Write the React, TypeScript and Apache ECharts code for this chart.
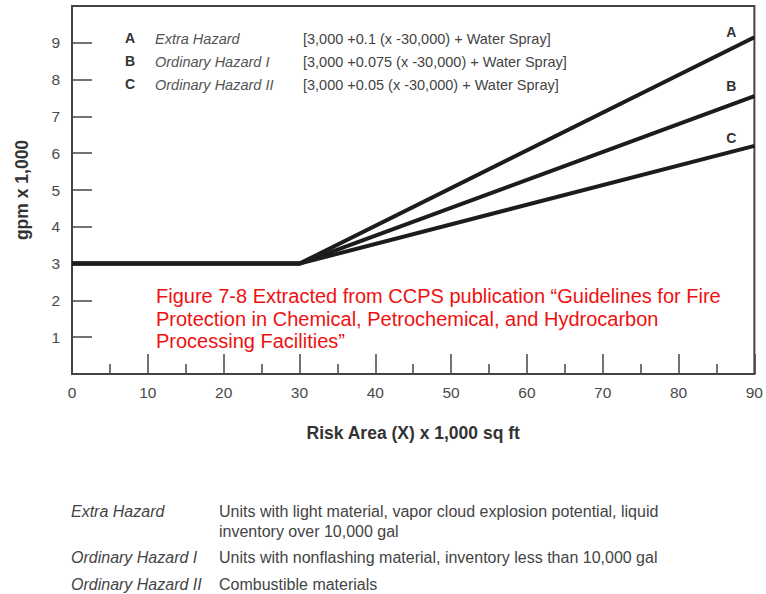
import React, { useEffect, useRef } from "react";
import * as echarts from "echarts";

const seriesKeys = ["A", "B", "C"];
const hazardNames = ["Extra Hazard", "Ordinary Hazard I", "Ordinary Hazard II"];
const formulas = [
  "[3,000 +0.1 (x -30,000) + Water Spray]",
  "[3,000 +0.075 (x -30,000) + Water Spray]",
  "[3,000 +0.05 (x -30,000) + Water Spray]",
];
const xPoints = [0, 30, 90];
const seriesA = [3, 3, 9.15];
const seriesB = [3, 3, 7.55];
const seriesC = [3, 3, 6.2];
const labelOffsets = [-5, -10, -8];
const descriptions = [
  "Units with light material, vapor cloud explosion potential, liquid\ninventory over 10,000 gal",
  "Units with nonflashing material, inventory less than 10,000 gal",
  "Combustible materials",
];
const figureNote =
  "Figure 7-8 Extracted from CCPS publication \u201cGuidelines for Fire\nProtection in Chemical, Petrochemical, and Hydrocarbon\nProcessing Facilities\u201d";

const FONT = "'Liberation Sans', Arial, Helvetica, sans-serif";
const AXIS = "#444";
const TXT = "#4a4a4a";

export default function App() {
  const ref = useRef<HTMLDivElement>(null);
  useEffect(() => {
    document.body.style.margin = "0";
    if (!ref.current) return;
    const chart = echarts.init(ref.current, null, { renderer: "svg" });
    const all = [seriesA, seriesB, seriesC];
    const series = all.map((vals, si) => ({
      type: "line",
      name: seriesKeys[si],
      showSymbol: true,
      symbol: "circle",
      symbolSize: 0,
      lineStyle: { color: "#1c1c1c", width: 4 },
      itemStyle: { color: "#1c1c1c" },
      data: vals.map((v, i) =>
        i === vals.length - 1
          ? {
              value: [xPoints[i], v],
              label: {
                show: true,
                formatter: seriesKeys[si],
                position: [-23, labelOffsets[si]],
                align: "center",
                verticalAlign: "middle",
                fontFamily: FONT,
                fontWeight: "bold",
                fontSize: 14,
                color: "#333",
              },
            }
          : [xPoints[i], v]
      ),
    }));

    const graphics: any[] = [];
    const rowY = [39, 62, 85];
    seriesKeys.forEach((k, i) => {
      graphics.push({
        type: "text",
        left: 125,
        top: rowY[i] - 8,
        style: { text: k, font: `bold 14px ${FONT}`, fill: "#333" },
      });
      graphics.push({
        type: "text",
        left: 155,
        top: rowY[i] - 8,
        style: { text: hazardNames[i], font: `italic 14.5px ${FONT}`, fill: "#555" },
      });
      graphics.push({
        type: "text",
        left: 303,
        top: rowY[i] - 8,
        style: { text: formulas[i], font: `14.5px ${FONT}`, fill: "#444" },
      });
    });
    graphics.push({
      type: "text",
      left: 156,
      top: 285,
      style: {
        text: figureNote,
        font: `20px ${FONT}`,
        fill: "#ee1111",
        lineHeight: 22.5,
      },
    });
    const descY = [501, 547, 574];
    hazardNames.forEach((h, i) => {
      graphics.push({
        type: "text",
        left: 71,
        top: descY[i],
        style: { text: h, font: `italic 16px ${FONT}`, fill: "#444", lineHeight: 20 },
      });
      graphics.push({
        type: "text",
        left: 219,
        top: descY[i],
        style: { text: descriptions[i], font: `16px ${FONT}`, fill: "#444", lineHeight: 20 },
      });
    });

    chart.setOption({
      animation: false,
      grid: {
        left: 72,
        right: 10,
        top: 6,
        bottom: 220,
        show: true,
        borderColor: AXIS,
        borderWidth: 2,
        backgroundColor: "transparent",
      },
      xAxis: {
        type: "value",
        min: 0,
        max: 90,
        interval: 10,
        name: "Risk Area (X) x 1,000 sq ft",
        nameLocation: "middle",
        nameGap: 50,
        nameTextStyle: { fontFamily: FONT, fontWeight: "bold", fontSize: 17.5, color: "#333" },
        axisLine: { show: true, lineStyle: { color: AXIS, width: 2 } },
        axisTick: { show: true, inside: true, length: 20, lineStyle: { color: AXIS, width: 1.5 } },
        minorTick: { show: true, splitNumber: 2, length: 10, lineStyle: { color: AXIS, width: 1.5 } },
        splitLine: { show: false },
        axisLabel: { fontFamily: FONT, fontSize: 15.5, color: TXT, margin: 10 },
      },
      yAxis: {
        type: "value",
        min: 0,
        max: 10,
        interval: 1,
        name: "gpm x 1,000",
        nameLocation: "middle",
        nameGap: 41,
        nameTextStyle: { fontFamily: FONT, fontWeight: "bold", fontSize: 17.5, color: "#333" },
        axisLine: { show: true, lineStyle: { color: AXIS, width: 2 } },
        axisTick: { show: true, inside: true, length: 20, lineStyle: { color: AXIS, width: 1.5 } },
        splitLine: { show: false },
        axisLabel: {
          fontFamily: FONT,
          fontSize: 15.5,
          color: TXT,
          margin: 12,
          formatter: (v: number) => (v === 0 || v === 10 ? "" : String(v)),
        },
      },
      series,
      graphic: graphics,
    });
    return () => chart.dispose();
  }, []);
  return <div ref={ref} style={{ width: 766, height: 594 }} />;
}
